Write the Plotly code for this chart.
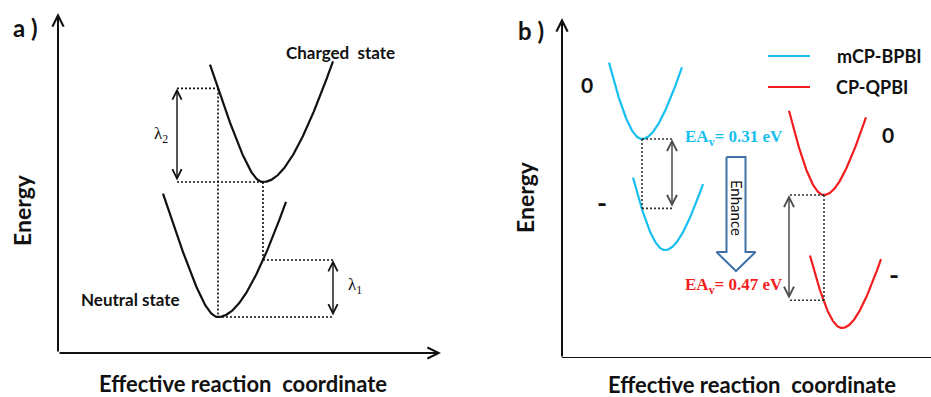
import numpy as np
import plotly.graph_objects as go

# ---------------- Panel a: reorganization energies ----------------
state_names = ["Neutral state", "Charged state"]
state_min_x = [160, 205]          # reaction coordinate of each minimum
state_min_e = [36, 171]           # energy of each minimum
state_span = [(-55, 68), (-53, 70)]  # left / right reach of each curve
# asymmetric well profile: (a, b) for the left and right branches
well_a = {"left": (64.0, 20.0), "right": (195.0, 55.0)}

# ---------------- Panel b: vertical electron affinities ----------------
molecules = ["mCP-BPBI", "CP-QPBI"]
mol_colors = ["#16BFF0", "#F21D1D"]
neutral_min_x = [80, 262]
neutral_min_e = [0.978, 0.728]    # eV
anion_min_x = [103, 280]
anion_min_e = [0.482, 0.134]      # eV
neutral_span = [(-33, 40), (-35, 42)]
anion_span = [(-32, 38), (-32, 39)]
ea_values = [0.31, 0.47]          # eV
well_b = {"left": (0.70, 30.0), "right": (0.48, 30.0)}


def branch(dx, prm):
    a, b = prm
    return a * (np.sqrt(1.0 + (dx / b) ** 2) - 1.0)


def well(x0, e0, span, prm, n=160):
    dx = np.linspace(span[0], span[1], n)
    e = np.where(dx < 0, branch(dx, prm["left"]), branch(dx, prm["right"]))
    return x0 + dx, e0 + e


def well_at(x0, e0, x, prm):
    dx = x - x0
    side = "left" if dx < 0 else "right"
    return e0 + branch(dx, prm[side])


W, H = 931, 397
fig = go.Figure()

FONT = "Lato"
BLACK = "#111111"
DOT = "2px,2px"

annotations = []


def label(x, y, text, xr, yr, family=FONT, size=16, color=BLACK, angle=0):
    annotations.append(dict(x=x, y=y, xref=xr, yref=yr, text=text,
                            showarrow=False, textangle=angle,
                            xanchor="center", yanchor="middle",
                            font=dict(family=family, size=size, color=color)))


# ---- panel a curves
for i in range(2):
    xs, es = well(state_min_x[i], state_min_e[i], state_span[i], well_a)
    fig.add_trace(go.Scatter(x=xs, y=es, mode="lines",
                             line=dict(color=BLACK, width=2.2),
                             hoverinfo="skip", showlegend=False,
                             xaxis="x", yaxis="y"))

xn, en = state_min_x[0], state_min_e[0]
xc, ec = state_min_x[1], state_min_e[1]
lam2_top = well_at(xc, ec, xn, well_a)     # charged curve at neutral geometry
lam1_top = well_at(xn, en, xc, well_a)     # neutral curve at charged geometry
x_lam2 = xn - 41
x_lam1 = xc + 70


def dotted(x, y, xa, ya, color=BLACK, width=1.6):
    fig.add_trace(go.Scatter(x=x, y=y, mode="lines",
                             line=dict(color=color, width=width, dash=DOT),
                             hoverinfo="skip", showlegend=False,
                             xaxis=xa, yaxis=ya))


dotted([x_lam2, xn], [lam2_top, lam2_top], "x", "y")
dotted([x_lam2, xc], [ec, ec], "x", "y")
dotted([xn, xn], [lam2_top, en], "x", "y")
dotted([xc, xc], [ec, lam1_top], "x", "y")
dotted([xc, x_lam1], [lam1_top, lam1_top], "x", "y")
dotted([xn, x_lam1], [en, en], "x", "y")


def double_arrow(x, y0, y1, xr, yr, color, width=1.4):
    annotations.append(dict(x=x, y=y1, ax=x, ay=y0, xref=xr, yref=yr,
                            axref=xr, ayref=yr, text="", showarrow=True,
                            arrowhead=5, arrowside="end+start",
                            arrowsize=1.3, arrowwidth=width,
                            arrowcolor=color, standoff=0, startstandoff=0))


double_arrow(x_lam2, ec, lam2_top, "x", "y", BLACK)
double_arrow(x_lam1, en, lam1_top, "x", "y", BLACK)

label(x_lam2 - 16, (ec + lam2_top) / 2, "λ<sub>2</sub>", "x", "y",
      family="Liberation Serif", size=17)
label(x_lam1 + 22, (en + lam1_top) / 2 + 3, "λ<sub>1</sub>", "x", "y",
      family="Liberation Serif", size=17)
label(282, 301, "<b>Charged  state</b>", "x", "y", size=17)
label(72, 54, "<b>Neutral state</b>", "x", "y", size=17)

# ---- panel b curves
for i in range(2):
    xs, es = well(neutral_min_x[i], neutral_min_e[i], neutral_span[i], well_b)
    fig.add_trace(go.Scatter(x=xs, y=es, mode="lines",
                             line=dict(color=mol_colors[i], width=2.2),
                             hoverinfo="skip", showlegend=False,
                             xaxis="x2", yaxis="y2"))
    xs, es = well(anion_min_x[i], anion_min_e[i], anion_span[i], well_b)
    fig.add_trace(go.Scatter(x=xs, y=es, mode="lines",
                             line=dict(color=mol_colors[i], width=2.2),
                             hoverinfo="skip", showlegend=False,
                             xaxis="x2", yaxis="y2"))

ea_arrow_offset = [30, -35]
GRAY = "#4d4d4d"
for i in range(2):
    x0, e0 = neutral_min_x[i], neutral_min_e[i]
    e1 = e0 - ea_values[i]
    xa = x0 + ea_arrow_offset[i]
    dotted([x0, xa], [e0, e0], "x2", "y2", color="#333333")
    dotted([x0, x0], [e0, e1], "x2", "y2", color="#333333")
    dotted([x0, xa], [e1, e1], "x2", "y2", color="#333333")
    double_arrow(xa, e1, e0, "x2", "y2", GRAY, width=1.5)

# charge-state labels next to each well
charge_labels = [
    ("0", 25, 1.223), ("-", 40, 0.696),
    ("0", 326, 0.996), ("-", 332, 0.375),
]
for txt, xl, yl in charge_labels:
    label(xl, yl, "<b>%s</b>" % txt, "x2", "y2",
          size=21 if txt == "0" else 27)

ea_label_pos = [(172, 0.982), (172, 0.321)]
for i in range(2):
    label(ea_label_pos[i][0], ea_label_pos[i][1],
          "<b>EA<sub>v</sub>= %.2f eV</b>" % ea_values[i], "x2", "y2",
          family="Liberation Serif", size=17, color=mol_colors[i])

# "Enhance" block arrow between the two EA labels
cx, half_shaft, half_head = 174, 9.5, 19.5
e_top, e_neck, e_tip = 0.897, 0.473, 0.388
fig.add_trace(go.Scatter(
    x=[cx - half_shaft, cx + half_shaft, cx + half_shaft, cx + half_head,
       cx, cx - half_head, cx - half_shaft, cx - half_shaft],
    y=[e_top, e_top, e_neck, e_neck, e_tip, e_neck, e_neck, e_top],
    mode="lines", fill="toself", fillcolor="white",
    line=dict(color="#3F70A6", width=2), hoverinfo="skip",
    showlegend=False, xaxis="x2", yaxis="y2"))
label(cx + 1, 0.67, "Enhance", "x2", "y2", size=15, angle=90)

# ---- axes drawn as arrows
ax_a = dict(xmax=383, ymax=340)
ax_b = dict(xmax=369, ymax=340 / 224)
for xr, yr, lim, head_x in (("x", "y", ax_a, True), ("x2", "y2", ax_b, False)):
    annotations.append(dict(x=0, y=lim["ymax"], ax=0, ay=0, xref=xr, yref=yr,
                            axref=xr, ayref=yr, text="", showarrow=True,
                            arrowhead=5, arrowsize=1.1, arrowwidth=2,
                            arrowcolor=BLACK, standoff=0))
    if head_x:
        annotations.append(dict(x=lim["xmax"], y=0, ax=0, ay=0, xref=xr,
                                yref=yr, axref=xr, ayref=yr, text="",
                                showarrow=True, arrowhead=5, arrowsize=1.1,
                                arrowwidth=2, arrowcolor=BLACK, standoff=0))
    else:
        fig.add_trace(go.Scatter(x=[0, lim["xmax"]], y=[0, 0], mode="lines",
                                 line=dict(color=BLACK, width=2),
                                 hoverinfo="skip", showlegend=False,
                                 xaxis=xr, yaxis=yr))


# ---- panel titles and axis titles (pixel positions on the page)
def px(xp, yp):
    return xp / W, 1 - yp / H


page_text = [
    ("<b>a )</b>", 25, 28, 24, 0),
    ("<b>b )</b>", 531, 30, 24, 0),
    ("<b>Energy</b>", 22, 210, 23, -90),
    ("<b>Energy</b>", 525, 197, 23, -90),
    ("<b>Effective reaction  coordinate</b>", 243, 383, 22, 0),
    ("<b>Effective reaction  coordinate</b>", 752, 384, 22, 0),
]
for txt, xp, yp, size, ang in page_text:
    xx, yy = px(xp, yp)
    label(xx, yy, txt, "paper", "paper", size=size, angle=ang)

# ---- legend for panel b
legend_rows = [(56, 879), (87, 872)]
shapes = []
for i in range(2):
    yp, tx = legend_rows[i]
    x0, y0 = px(768, yp)
    x1, _ = px(810, yp)
    shapes.append(dict(type="line", xref="paper", yref="paper", x0=x0, x1=x1,
                       y0=y0, y1=y0,
                       line=dict(color=mol_colors[i], width=2.2)))
    xx, yy = px(tx, yp)
    label(xx, yy, "<b>%s</b>" % molecules[i], "paper", "paper", size=18)

hidden = dict(visible=False, showgrid=False, zeroline=False, fixedrange=True)
fig.update_layout(
    width=W, height=H, autosize=False,
    margin=dict(l=0, r=0, t=0, b=0),
    paper_bgcolor="white", plot_bgcolor="rgba(0,0,0,0)",
    xaxis=dict(domain=[58 / W, 441 / W], range=[0, 383], anchor="y", **hidden),
    yaxis=dict(domain=[44 / H, 384 / H], range=[0, 340], anchor="x", **hidden),
    xaxis2=dict(domain=[562 / W, 1.0], range=[0, 369], anchor="y2", **hidden),
    yaxis2=dict(domain=[39 / H, 379 / H], range=[0, 340 / 224], anchor="x2",
                **hidden),
    annotations=annotations, shapes=shapes, showlegend=False,
)

fig.write_html("out.html")
